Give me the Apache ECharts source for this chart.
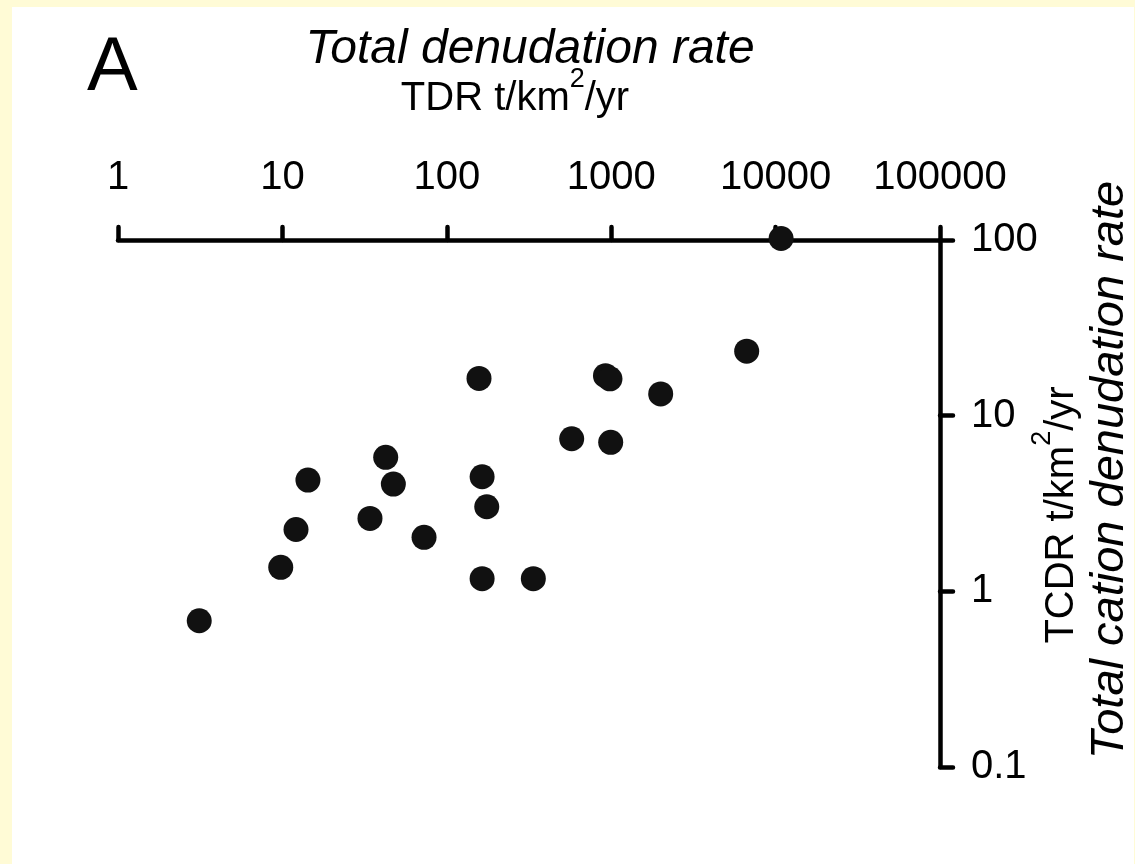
<!DOCTYPE html>
<html>
<head>
<meta charset="utf-8">
<script src="https://cdn.jsdelivr.net/npm/echarts@6/dist/echarts.min.js"></script>
<style>
  html, body { margin: 0; padding: 0; background: #FFFBD6; width: 1135px; height: 864px; overflow: hidden; }
  #chart { position: absolute; left: 12px; top: 7px; width: 1122px; height: 857px; background: #ffffff; }
</style>
</head>
<body>
<div id="chart"></div>
<script>
// Total denudation rate (t/km2/yr) for each basin
const tdr = [3.12, 9.77, 12.1, 14.3, 34.1, 42.5, 47.3, 72.7, 157, 164, 175, 164, 336, 575, 923, 983, 993, 2000, 6670, 10800];
// Total cation denudation rate (t/km2/yr) for the same basins
const tcdr = [0.68, 1.37, 2.25, 4.30, 2.60, 5.79, 4.08, 2.03, 16.3, 4.49, 3.03, 1.18, 1.18, 7.39, 16.9, 16.2, 7.05, 13.3, 23.3, 102];

const xTickLabels = ['1', '10', '100', '1000', '10000', '100000'];
const yTickLabels = ['0.1', '1', '10', '100'];

const FONT = "'Liberation Sans', Arial, sans-serif";
const points = tdr.map((v, i) => [v, tcdr[i]]);

// Unit label with a raised "2": pieces laid out left to right, centred on (0,0)
const measureCtx = document.createElement('canvas').getContext('2d');
function unitLabel(prefix) {
  const pieces = [
    { text: prefix + ' t/km', size: 40, dy: 0 },
    { text: '2', size: 27, dy: -19 },
    { text: '/yr', size: 40, dy: 0 }
  ];
  let total = 0;
  pieces.forEach(p => {
    measureCtx.font = p.size + 'px ' + FONT;
    p.w = measureCtx.measureText(p.text).width;
    total += p.w;
  });
  let x = -total / 2;
  return pieces.map(p => {
    const el = {
      type: 'text', x: x, y: p.dy,
      style: { text: p.text, font: p.size + 'px ' + FONT, fill: '#000', align: 'left', verticalAlign: 'middle' }
    };
    x += p.w;
    return el;
  });
}

const chart = echarts.init(document.getElementById('chart'));

const axisLine = { show: true, lineStyle: { color: '#000', width: 4.5, cap: 'round' } };
const axisTick = { show: true, length: 13, lineStyle: { color: '#000', width: 4.5, cap: 'round' } };

chart.setOption({
  animation: false,
  backgroundColor: '#ffffff',
  grid: { left: 106, right: 194, top: 233, bottom: 97, containLabel: false },
  xAxis: {
    type: 'log', logBase: 10, min: 1, max: 100000, position: 'top',
    axisLine: axisLine, axisTick: axisTick, splitLine: { show: false }, minorTick: { show: false },
    axisLabel: {
      margin: 42, fontSize: 40, color: '#000', fontFamily: FONT,
      formatter: v => xTickLabels[Math.round(Math.log10(v))]
    }
  },
  yAxis: {
    type: 'log', logBase: 10, min: 0.1, max: 100, position: 'right',
    axisLine: axisLine, axisTick: axisTick, splitLine: { show: false },
    axisLabel: {
      margin: 31, fontSize: 40, color: '#000', fontFamily: FONT,
      formatter: v => yTickLabels[Math.round(Math.log10(v)) + 1]
    }
  },
  series: [{
    type: 'scatter',
    data: points,
    symbol: 'circle',
    symbolSize: 25,
    clip: false,
    itemStyle: { color: '#111111', opacity: 1 }
  }],
  graphic: [
    {
      type: 'text', left: 75, top: 24,
      style: { text: 'A', font: '76px ' + FONT, fill: '#000' }
    },
    {
      type: 'text', x: 518, y: 43,
      style: { text: 'Total denudation rate', font: 'italic 48px ' + FONT, fill: '#000', align: 'center', verticalAlign: 'middle' }
    },
    {
      type: 'group', x: 503, y: 92,
      children: unitLabel('TDR')
    },
    {
      type: 'text', x: 1098, y: 463, rotation: Math.PI / 2,
      style: { text: 'Total cation denudation rate', font: 'italic 47px ' + FONT, fill: '#000', align: 'center', verticalAlign: 'middle' }
    },
    {
      type: 'group', x: 1050, y: 508, rotation: Math.PI / 2,
      children: unitLabel('TCDR')
    }
  ]
});
</script>
</body>
</html>
